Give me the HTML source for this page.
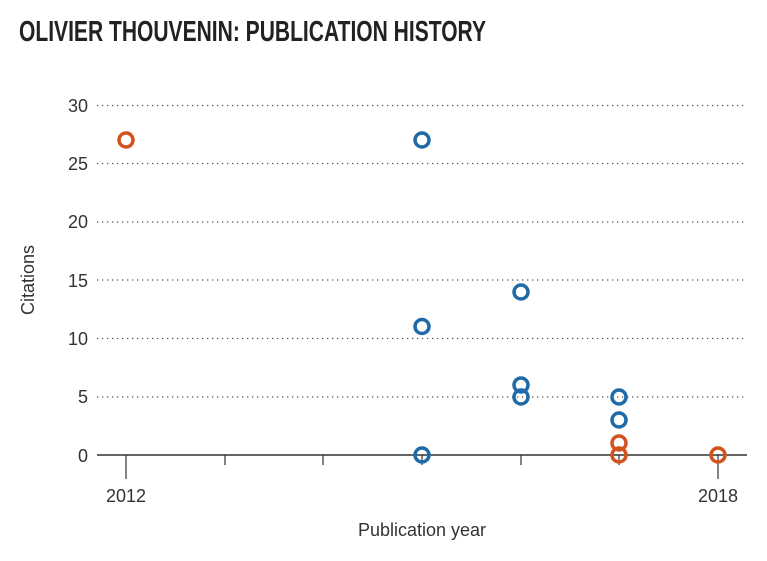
<!DOCTYPE html>
<html><head><meta charset="utf-8"><style>
body{margin:0;background:#fff;width:767px;height:556px;overflow:hidden}
</style></head><body>
<svg width="767" height="556" xmlns="http://www.w3.org/2000/svg" font-family="Liberation Sans, sans-serif">
<text x="19" y="41" font-family="Liberation Sans Narrow, Liberation Sans, sans-serif" font-weight="bold" font-size="29" fill="#222" textLength="467" lengthAdjust="spacingAndGlyphs">OLIVIER THOUVENIN: PUBLICATION HISTORY</text>
<g stroke="#555" stroke-width="1.3" stroke-dasharray="1.3 3.7">
<line x1="97" y1="105.5" x2="747" y2="105.5"/>
<line x1="97" y1="163.5" x2="747" y2="163.5"/>
<line x1="97" y1="222" x2="747" y2="222"/>
<line x1="97" y1="280" x2="747" y2="280"/>
<line x1="97" y1="338.5" x2="747" y2="338.5"/>
<line x1="97" y1="397" x2="747" y2="397"/>
</g>
<line x1="97" y1="455" x2="747" y2="455" stroke="#333" stroke-width="1.5"/>
<g stroke="#333" stroke-width="1.2">
<line x1="126" y1="455" x2="126" y2="479"/>
<line x1="718" y1="455" x2="718" y2="479"/>
<line x1="225" y1="455" x2="225" y2="465"/>
<line x1="323" y1="455" x2="323" y2="465"/>
<line x1="422" y1="455" x2="422" y2="465"/>
<line x1="521" y1="455" x2="521" y2="465"/>
<line x1="619" y1="455" x2="619" y2="465"/>
</g>
<g font-size="18" fill="#333" text-anchor="end">
<text x="88" y="112">30</text><text x="88" y="170">25</text><text x="88" y="228">20</text>
<text x="88" y="287">15</text><text x="88" y="345">10</text><text x="88" y="403">5</text><text x="88" y="462">0</text>
</g>
<g font-size="18" fill="#333" text-anchor="middle">
<text x="126" y="502">2012</text><text x="718" y="502">2018</text>
<text x="422" y="536">Publication year</text>
</g>
<text transform="translate(34,280) rotate(-90)" font-size="18" fill="#333" text-anchor="middle">Citations</text>
<g fill="none" stroke-width="3.5">
<g stroke="#1f6aa8">
<circle cx="422" cy="140" r="7"/><circle cx="422" cy="326.5" r="7"/><circle cx="422" cy="455" r="7"/>
<circle cx="521" cy="292" r="7"/><circle cx="521" cy="385" r="7"/><circle cx="521" cy="397" r="7"/>
<circle cx="619" cy="397" r="7"/><circle cx="619" cy="420" r="7"/>
</g>
<g stroke="#d4521f">
<circle cx="126" cy="140" r="7"/><circle cx="619" cy="443" r="7"/><circle cx="619" cy="455" r="7"/><circle cx="718" cy="455" r="7"/>
</g>
</g>
</svg>
</body></html>
